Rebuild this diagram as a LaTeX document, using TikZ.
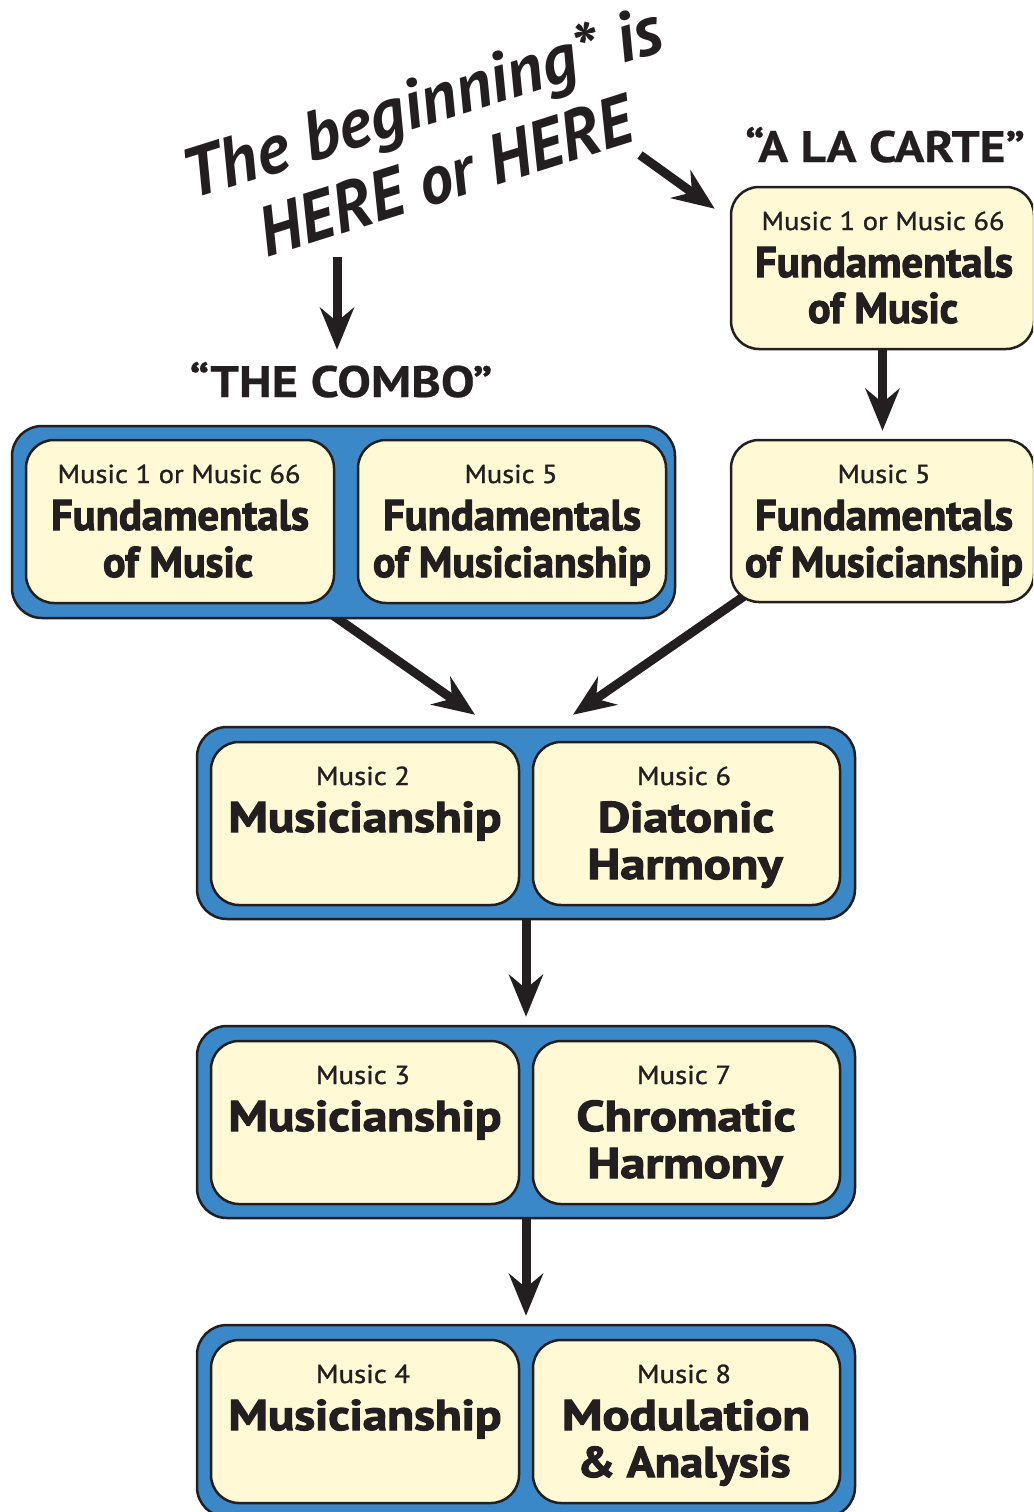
\documentclass[tikz,border=0pt]{standalone}
\usepackage{fontspec}
\usepackage{graphicx}
\setmainfont{PT Sans}
\newfontfamily\heavy[FakeBold=2.5]{PT Sans Bold}
\newfontfamily\medium[FakeBold=1]{PT Sans}
\newfontfamily\titlef{PT Sans Bold Italic}
\newfontfamily\headf[FakeBold=0.5]{PT Sans Bold}
\usetikzlibrary{arrows.meta,calc}
\pgfdeclarelayer{bg}
\pgfsetlayers{bg,main}
\definecolor{ink}{HTML}{231F20}
\definecolor{blueF}{HTML}{3B88C8}
\definecolor{cream}{HTML}{FFF9D5}
\newcommand{\fitx}[2]{\resizebox{#1pt}{\height}{#2}}
\tikzset{
  outerbox/.style={draw=ink, fill=blueF, line width=2.5pt, rounded corners=30pt, inner sep=0pt},
  innerbox/.style={draw=ink, fill=cream, line width=2.5pt, rounded corners=28pt, inner sep=0pt, minimum height=163pt},
  arr/.style={draw=ink, line width=9pt, -{Stealth[length=42pt,width=34pt,inset=14pt]}},
  small/.style={text=ink, anchor=base, inner sep=0pt, font=\medium\fontsize{26}{30}\selectfont},
  big/.style={text=ink, anchor=base, inner sep=0pt, font=\heavy\fontsize{43}{48}\selectfont},
  titletxt/.style={text=ink, anchor=base, inner sep=0pt, rotate=17.5, font=\titlef\fontsize{70}{80}\selectfont},
  head/.style={text=ink, anchor=base, inner sep=0pt, font=\headf\fontsize{44}{50}\selectfont},
}
\begin{document}
\begin{tikzpicture}[x=1pt,y=-1pt]
\useasboundingbox (0,0) rectangle (1033,1512);
\clip (0,0) rectangle (1033,1512);

% headings
\node[titletxt] (t1) at (429,125) {The beginning* is};
\node[titletxt] (t2) at (453,199) {\fitx{388}{HERE or HERE}};
\node[head] (combolab) at (341,397) {\fitx{303}{“THE COMBO”}};
\node[head] (cartelab) at (885,162) {\fitx{280}{“A LA CARTE”}};
\coordinate (s1) at (337,257);
\coordinate (s2) at (640,155);

% a la carte column
\node[innerbox, minimum width=303pt, minimum height=162pt] (ra) at (882.5,268) {};
\node[innerbox, minimum width=303pt, minimum height=162pt] (rb) at (882.5,521) {};
\node[small] (ra1) at (883,230) {\fitx{243}{Music 1 or Music 66}};
\node[big] (ra2) at (884,277) {\fitx{258}{Fundamentals}};
\node[big] (ra3) at (883,323) {\fitx{150}{of Music}};
\node[small] (rb1) at (884,483) {\fitx{93}{Music 5}};
\node[big] (rb2) at (884,530) {\fitx{258}{Fundamentals}};
\node[big] (rb3) at (884,577) {\fitx{278}{of Musicianship}};

% combo
\node[outerbox, minimum width=663pt, minimum height=192pt] (combo) at (343.5,522) {};
\node[innerbox, minimum width=308pt] (ca) at (180,521.5) {};
\node[innerbox, minimum width=308pt] (cb) at (512,521.5) {};
\node[small] (ca1) at (179,483) {\fitx{243}{Music 1 or Music 66}};
\node[big] (ca2) at (180,530) {\fitx{258}{Fundamentals}};
\node[big] (ca3) at (178,577) {\fitx{150}{of Music}};
\node[small] (cb1) at (511,483) {\fitx{93}{Music 5}};
\node[big] (cb2) at (512,530) {\fitx{258}{Fundamentals}};
\node[big] (cb3) at (512,577) {\fitx{278}{of Musicianship}};

% row 2
\node[outerbox, minimum width=658pt, minimum height=192pt] (row2) at (526,823) {};
\node[innerbox, minimum width=308pt] (r2a) at (365,823.5) {};
\node[innerbox, minimum width=307pt] (r2b) at (686.5,823.5) {};
\node[small] at (363,785) {\fitx{94}{Music 2}};
\node[big] at (365,832) {\fitx{273}{Musicianship}};
\node[small] at (684,785) {\fitx{94}{Music 6}};
\node[big] at (686,832) {\fitx{176}{Diatonic}};
\node[big] at (685,879) {\fitx{195}{Harmony}};

% row 3
\node[outerbox, minimum width=658pt, minimum height=192pt] (row3) at (526,1122) {};
\node[innerbox, minimum width=308pt] (r3a) at (365,1122.5) {};
\node[innerbox, minimum width=307pt] (r3b) at (686.5,1122.5) {};
\node[small] at (363,1084) {\fitx{94}{Music 3}};
\node[big] at (365,1131) {\fitx{273}{Musicianship}};
\node[small] at (684,1084) {\fitx{94}{Music 7}};
\node[big] at (686,1131) {\fitx{219}{Chromatic}};
\node[big] at (685,1178) {\fitx{195}{Harmony}};

% row 4
\node[outerbox, minimum width=658pt, minimum height=192pt] (row4) at (526,1421) {};
\node[innerbox, minimum width=308pt] (r4a) at (365,1421.5) {};
\node[innerbox, minimum width=307pt] (r4b) at (686.5,1421.5) {};
\node[small] at (363,1383) {\fitx{94}{Music 4}};
\node[big] at (365,1430) {\fitx{273}{Musicianship}};
\node[small] at (684,1383) {\fitx{94}{Music 8}};
\node[big] at (686,1430) {\fitx{248}{Modulation}};
\node[big] at (684,1477) {\fitx{213}{\& Analysis}};

% arrows
\begin{pgfonlayer}{bg}
\draw[arr] (s1) -- ($(combolab.north)+(-4,-12)$);
\draw[arr] (s2) -- ($(ra.north west)+(-15,23)$);
\draw[arr, shorten >=8pt] (ra.south) -- (rb.north);
\draw[arr] ($(combo.south)+(-12,-5)$) -- ($(row2.north)+(-51,-11)$);
\draw[arr] ($(rb.south west)+(20,-11)$) -- ($(row2.north)+(47,-11)$);
\draw[arr, shorten >=8pt] (row2.south) -- (row3.north);
\draw[arr, shorten >=8pt] (row3.south) -- (row4.north);
\end{pgfonlayer}
\end{tikzpicture}
\end{document}
